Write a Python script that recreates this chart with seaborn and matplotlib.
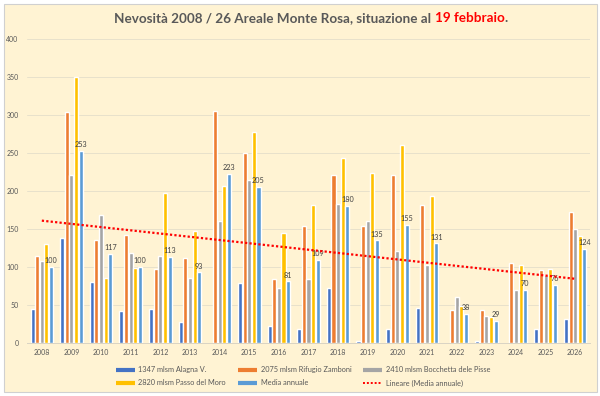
import numpy as np
import pandas as pd
import matplotlib
matplotlib.use("Agg")
import matplotlib.pyplot as plt
from matplotlib.lines import Line2D
from matplotlib.patches import Rectangle
import seaborn as sns

years = ["2008", "2009", "2010", "2011", "2012", "2013", "2014", "2015", "2016", "2017",
         "2018", "2019", "2020", "2021", "2022", "2023", "2024", "2025", "2026"]
alagna = [45, 138, 80, 42, 45, 28, np.nan, 79, 23, 18, 72, 3, 18, 46, np.nan, 3, np.nan, 18, 32]
zamboni = [115, 304, 135, 142, 97, 112, 305, 250, 84, 154, 221, 154, 221, 181, 43, 43, 105, 96, 173]
bocchetta = [108, 221, 168, 118, 115, 85, 160, 214, 72, 84, 183, 160, 121, 103, 61, 36, 70, 90, 150]
moro = [130, 350, 86, 99, 197, 148, 206, 277, 145, 181, 244, 224, 260, 193, 49, 34, 103, 98, 141]
media = [100, 253, 117, 100, 113, 93, 223, 205, 81, 109, 180, 135, 155, 131, 38, 29, 70, 76, 124]

series_names = ["1347 mlsm Alagna V.", "2075 mlsm Rifugio Zamboni", "2410 mlsm Bocchetta dele Pisse",
                "2820 mlsm Passo del Moro", "Media annuale"]
trend_name = "Lineare (Media annuale)"
colors = ["#4472C4", "#ED7D31", "#A5A5A5", "#FFC000", "#5B9BD5"]

rows = []
for name, vals in zip(series_names, [alagna, zamboni, bocchetta, moro, media]):
    for y, v in zip(years, vals):
        rows.append({"Anno": y, "Serie": name, "Valore": v})
df = pd.DataFrame(rows)

sns.set_theme(style="white")
plt.rcParams["font.family"] = ["Lato", "DejaVu Sans"]

BG = "#FFF3D3"
fig = plt.figure(figsize=(6, 3.96), dpi=100, facecolor="white")
bgrect = Rectangle((4 / 600, 1 - 392 / 396), 593 / 600, 388 / 396,
                   transform=fig.transFigure, facecolor=BG,
                   edgecolor="#D0D0D0", linewidth=0.8, zorder=-10)
fig.patches.append(bgrect)

ax = fig.add_axes([27 / 600, 1 - 343 / 396, 563 / 600, 304 / 396])
ax.set_zorder(1)
ax.patch.set_alpha(0)

sns.barplot(data=df, x="Anno", y="Valore", hue="Serie", hue_order=series_names,
            palette=colors, order=years, width=0.78, gap=0.12, ax=ax,
            legend=False, saturation=1, errorbar=None)

x = np.arange(len(years))
coef = np.polyfit(x, np.array(media, dtype=float), 1)
ax.plot(x, np.polyval(coef, x), color="#FF0000", linestyle=(0, (1, 1)), linewidth=1.6, zorder=5)

ax.bar_label(ax.containers[4], labels=[str(v) for v in media], fontsize=5.2,
             color="#404040", padding=2)

ax.set_ylim(0, 400)
ax.set_xlim(-0.5, len(years) - 0.5)
ax.set_yticks(range(0, 401, 50))
ax.yaxis.grid(True, color="#E8E1CB", linewidth=0.7)
ax.set_axisbelow(True)
for s in ["top", "right", "left"]:
    ax.spines[s].set_visible(False)
ax.spines["bottom"].set_color("#D9D4C4")
ax.spines["bottom"].set_linewidth(0.7)
ax.tick_params(axis="both", length=0, labelsize=5, labelcolor="#595959", pad=4)
ax.tick_params(axis="y", pad=6)
ax.set_xlabel("")
ax.set_ylabel("")

handles = [Line2D([0], [0], color=c, linewidth=3, solid_capstyle="butt") for c in colors]
handles.append(Line2D([0], [0], color="#FF0000", linewidth=1.4, linestyle=(0, (1, 1))))
labels = series_names + [trend_name]
order = [0, 3, 1, 4, 2, 5]
fig.legend([handles[i] for i in order], [labels[i] for i in order], ncol=3,
           loc="upper center", bbox_to_anchor=(0.505, 0.092), frameon=False,
           fontsize=5.3, labelcolor="#595959", handlelength=2.6, handletextpad=0.5,
           columnspacing=1.6, labelspacing=0.85)

# Title in pieces
parts = [("Nevosità 2008 / 26 Areale Monte Rosa, situazione al ", "#595959"),
         ("19 febbraio", "#FF0000"), (".", "#595959")]
fig.canvas.draw()
renderer = fig.canvas.get_renderer()
texts = []
for t, c in parts:
    texts.append(fig.text(0, 1 - 18 / 396, t, color=c, fontsize=9.7, fontweight="bold",
                          va="center", ha="left"))
widths = [tx.get_window_extent(renderer).width for tx in texts]
total = sum(widths)
start = 311 - total / 2
for tx, w in zip(texts, widths):
    tx.set_x(start / 600)
    start += w

fig.savefig("out.png", dpi=100, facecolor="white")
